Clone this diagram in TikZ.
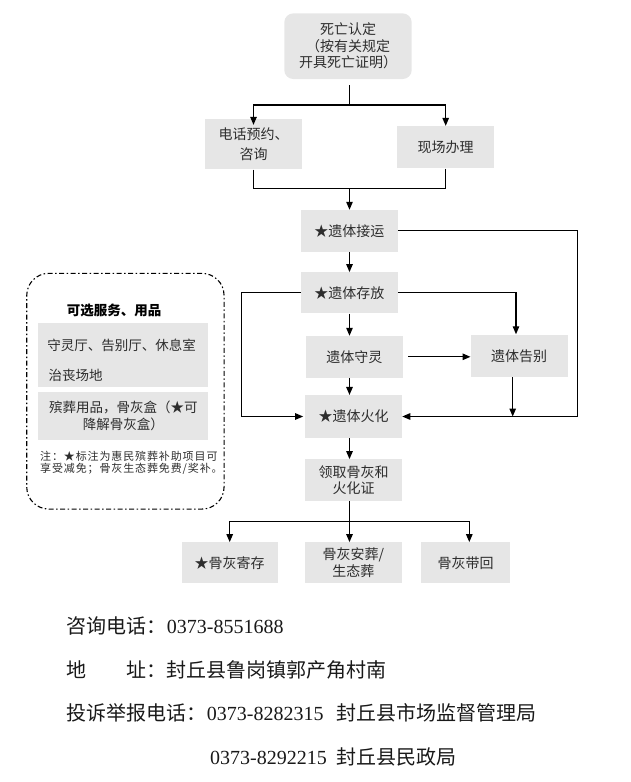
\documentclass[tikz,border=0pt]{standalone}
\usepackage{fontspec}
\setmainfont{Liberation Serif}
\newfontfamily\cjk{Noto Sans CJK SC}
\newfontfamily\cjknote[LetterSpace=8]{Noto Sans CJK SC}
\usetikzlibrary{arrows.meta}
\definecolor{boxgray}{RGB}{230,230,230}
\definecolor{txtgray}{RGB}{45,45,45}
\tikzset{
  stepbox/.style={fill=boxgray, inner sep=0pt, align=center, text=txtgray,
    font=\cjk\fontsize{14}{16.5}\selectfont},
  conn/.style={line width=1.2pt, draw=black},
  arr/.style={conn, -{Triangle[length=8pt,width=6.5pt]}},
  infotext/.style={anchor=base west, inner sep=0pt, text=black!90,
    font=\fontsize{20}{24}\selectfont},
}
\begin{document}
\begin{tikzpicture}[x=1pt,y=-1pt]
\useasboundingbox (0,0) rectangle (630,782);

% ---- main flow nodes ----
\node[stepbox, rounded corners=9pt, minimum width=127.4, minimum height=65.7] (death) at (348,46.2) {死亡认定\\（按有关规定\\开具死亡证明）};
\node[stepbox, minimum width=96.4, minimum height=50.3, font=\cjk\fontsize{14}{20}\selectfont] (phone) at (253.5,144.2) {电话预约、\\咨询};
\node[stepbox, minimum width=96.7, minimum height=42.3] (onsite) at (445.7,147.2) {现场办理};
\node[stepbox, minimum width=96.7, minimum height=41.7] (pickup) at (349.3,230.8) {★遗体接运};
\node[stepbox, minimum width=96.7, minimum height=41] (store) at (349.3,292.8) {★遗体存放};
\node[stepbox, minimum width=96.7, minimum height=41.7] (vigil) at (354.3,356.8) {遗体守灵};
\node[stepbox, minimum width=97, minimum height=41.7] (farewell) at (519.2,356.3) {遗体告别};
\node[stepbox, minimum width=96.7, minimum height=42.7] (cremate) at (353.7,416.5) {★遗体火化};
\node[stepbox, minimum width=96.7, minimum height=41.4] (collect) at (353.7,480) {领取骨灰和\\火化证};
\node[stepbox, minimum width=96, minimum height=41] (keep) at (229.7,562.8) {★骨灰寄存};
\node[stepbox, minimum width=96.7, minimum height=41] (bury) at (353.3,562.8) {骨灰安葬/\\生态葬};
\node[stepbox, minimum width=89, minimum height=41] (home) at (465.5,562.8) {骨灰带回};

% ---- helper coordinates ----
\coordinate (spine) at (349.5,0);
\coordinate (j1) at (349.5,105);
\coordinate (j2) at (349.5,188.3);
\coordinate (j3) at (349.5,521.7);
\coordinate (ll) at (241.7,416.5);
\coordinate (rr) at (577.7,416.5);
\coordinate (fxa) at (516,0);
\coordinate (fxb) at (512.7,0);
\coordinate (hx) at (469.3,0);

% ---- connectors ----
\draw[conn, shorten <=6pt] (death.south -| j1) -- (j1);
\draw[arr, shorten >=-6pt] (j1) -| (phone.north);
\draw[arr] (j1) -| (onsite.north);
\draw[conn] (phone.south) |- (j2);
\draw[conn] (onsite.south) |- (j2);
\draw[arr] (j2) -- (pickup.north -| j2);
\draw[arr] (pickup.south -| spine) -- (store.north -| spine);
\draw[arr] (pickup.east) -| (rr) -- (cremate.east);
\draw[arr, shorten >=2pt] (store.west) -| (ll) -- (cremate.west);
\draw[arr, shorten >=1pt] (store.east) -| (farewell.north -| fxa);
\draw[arr] (store.south -| spine) -- (vigil.north -| spine);
\draw[arr, shorten <=5.5pt] (vigil.east) -- (vigil.east -| farewell.west);
\draw[arr] (farewell.south -| fxb) -- (fxb |- rr);
\draw[arr] (vigil.south -| spine) -- (cremate.north -| spine);
\draw[arr] (cremate.south -| spine) -- (collect.north -| spine);
\draw[conn] (collect.south -| spine) -- (j3);
\draw[arr] (j3) -- (bury.north -| j3);
\draw[arr] (j3) -| (keep.north);
\draw[arr] (j3) -| (home.north -| hx);

% ---- optional services panel ----
\node[draw=black, line width=1.1pt, dash pattern=on 5pt off 2.5pt on 1.5pt off 2.5pt,
      rounded corners=22pt, minimum width=197.3, minimum height=235.7, inner sep=0pt] (opt) at (125.4,391.2) {};
\node[inner sep=0pt, text=black, font=\cjk\bfseries\fontsize{13.5}{16}\selectfont] (optt) at (114,310) {可选服务、用品};
\node[fill=boxgray, minimum width=170, minimum height=64, inner sep=0pt] (og1) at (123.3,355.3) {};
\node[inner sep=0pt, text=txtgray, font=\cjk\fontsize{13.5}{16}\selectfont] (o1a) at (121.7,345) {守灵厅、告别厅、休息室};
\node[anchor=west, inner sep=0pt, text=txtgray, font=\cjk\fontsize{13.5}{16}\selectfont] (o1b) at (48.3,375) {治丧场地};
\node[fill=boxgray, minimum width=170, minimum height=47.7, inner sep=0pt, align=center, text=txtgray,
      font=\cjk\fontsize{13.5}{16.7}\selectfont] (og2) at (123.3,416.2) {殡葬用品，骨灰盒（★可\\降解骨灰盒）};
\node[anchor=west, inner sep=0pt, align=left, text=txtgray,
      font=\cjknote\fontsize{11}{12.5}\selectfont] (note) at (40,462.8) {注：★标注为惠民殡葬补助项目可\\享受减免；骨灰生态葬免费/奖补。};

% ---- contact info ----
\node[infotext] (l1) at (66.7,633.3) {{\cjk 咨询电话：}0373-8551688};
\node[infotext] (l2) at (66.7,677) {{\cjk 地\hspace{2em}址：封丘县鲁岗镇郭产角村南}};
\node[infotext] (l3) at (66.7,720.7) {{\cjk 投诉举报电话：}0373-8282315\hspace{0.65em}{\cjk 封丘县市场监督管理局}};
\node[infotext] (l4) at (210,764) {0373-8292215\hspace{0.5em}{\cjk 封丘县民政局}};
\end{tikzpicture}
\end{document}
